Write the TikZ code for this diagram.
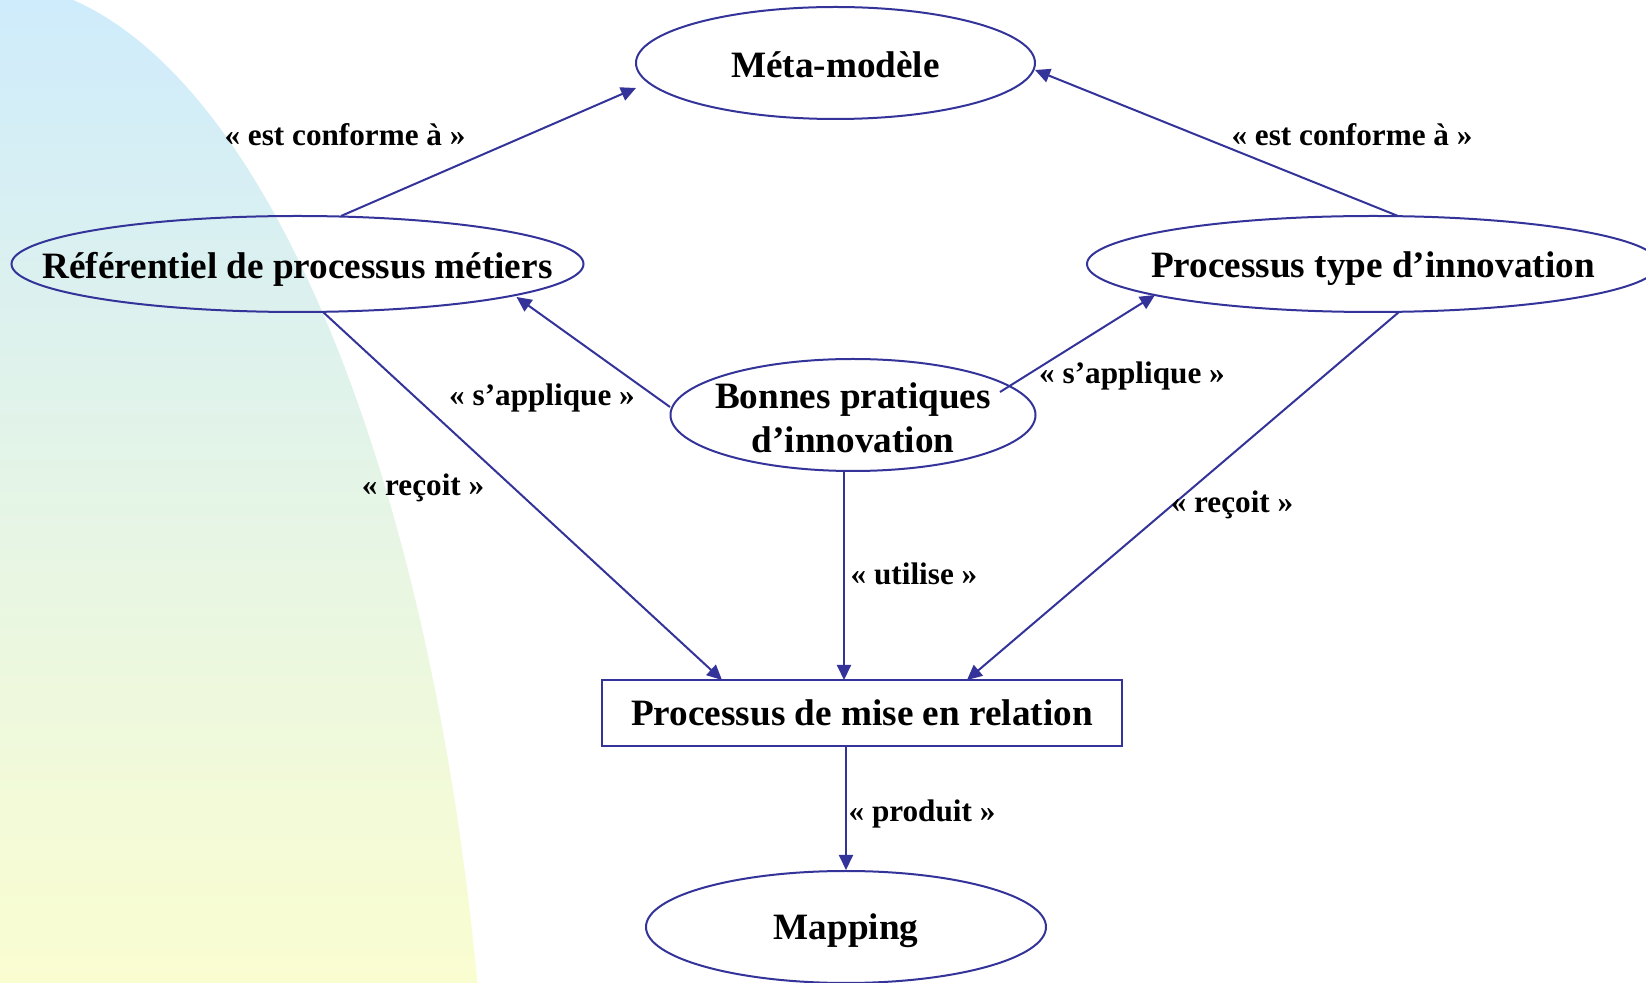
\documentclass[tikz,border=0pt]{standalone}
\usepackage{fontspec}
\setmainfont{Liberation Serif}
\usetikzlibrary{arrows.meta,calc,shapes.geometric}
\definecolor{lineblue}{RGB}{51,51,153}
\definecolor{bgtop}{RGB}{207,236,252}
\definecolor{bgbot}{RGB}{250,253,208}
\begin{document}
\begin{tikzpicture}[x=0.5pt,y=-0.5pt,
  ell/.style={draw=lineblue, line width=1pt, ellipse, inner sep=0pt},
  nodetext/.style={font=\bfseries\fontsize{18.6}{22}\selectfont, align=center, inner sep=0pt},
  boxnode/.style={draw=lineblue, line width=1pt, rectangle, inner sep=0pt, font=\bfseries\fontsize{18.6}{22}\selectfont},
  lbl/.style={font=\bfseries\fontsize{15.6}{18}\selectfont, inner sep=0pt},
  arr/.style={draw=lineblue, line width=1pt, -{Triangle[length=7.5pt,width=7pt]}}]
\useasboundingbox (0,0) rectangle (1646,983);
\clip (0,0) rectangle (1646,983);
% background
\begin{scope}
  \clip (-10,1300) ellipse [x radius=502, y radius=1318];
  \shade[top color=bgtop, bottom color=bgbot] (0,0) rectangle (600,983);
\end{scope}
% shapes
\node[ell, minimum width=199.5pt, minimum height=56pt] (meta) at (835.5,63) {};
\node[ell, minimum width=286pt, minimum height=48pt] (ref) at (297.5,264) {};
\node[ell, minimum width=286pt, minimum height=48pt] (typ) at (1373,264) {};
\node[ell, minimum width=182.5pt, minimum height=56pt] (bon) at (853,415) {};
\node[ell, minimum width=200pt, minimum height=56pt] (map) at (846,927) {};
\node[boxnode, minimum width=260pt, minimum height=33pt] (rel) at (862,713) {Processus de mise en relation};
% texts
\node[nodetext] (metaT) at ($(meta)+(0,2)$) {Méta-modèle};
\node[nodetext] (refT) at ($(ref)+(0,5)$) {Référentiel de processus métiers};
\node[nodetext] (typT) at ($(typ)+(0,5)$) {Processus type d’innovation};
\node[nodetext] (bonT) at ($(bon)+(0,3)$) {Bonnes pratiques\\d’innovation};
\node[nodetext] (mapT) at ($(map)+(0,4)$) {Mapping};
% connectors
\draw[arr] ($(ref)+(43.5,-48)$) -- ($(meta)+(-199.5,25)$);
\draw[arr] ($(typ)+(25,-48)$) -- ($(meta)+(199.5,7)$);
\draw[arr] ($(bon)+(-183,-8)$) -- ($(ref)+(219,33)$);
\draw[arr] ($(bon)+(147,-23)$) -- ($(typ)+(-218,31)$);
\draw[arr] ($(ref)+(25.5,48)$) -- ($(rel)+(-140,-33)$);
\draw[arr] ($(typ)+(26,48)$) -- ($(rel)+(105,-33)$);
\draw[arr] ($(bon)+(-9,56)$) -- ($(rel)+(-18,-33)$);
\draw[arr] (rel.south -| map.north) -- (map.north);
% labels
\node[lbl] (l1) at (345,135) {« est conforme à »};
\node[lbl] (l2) at (1352,135) {« est conforme à »};
\node[lbl] (l3) at (542,398) {« s’applique »};
\node[lbl] (l4) at (1132,376) {« s’applique »};
\node[lbl] (l5) at (423,488) {« reçoit »};
\node[lbl] (l6) at (1232,505) {« reçoit »};
\node[lbl] (l7) at (914,574) {« utilise »};
\node[lbl] (l8) at (922,814) {« produit »};
\end{tikzpicture}
\end{document}
